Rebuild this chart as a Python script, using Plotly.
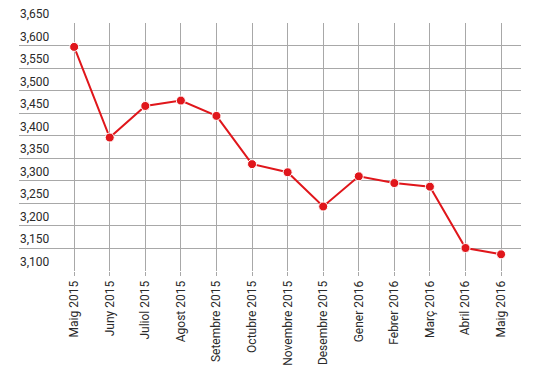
import plotly.graph_objects as go

months = ["Maig 2015", "Juny 2015", "Juliol 2015", "Agost 2015", "Setembre 2015",
          "Octubre 2015", "Novembre 2015", "Desembre 2015", "Gener 2016",
          "Febrer 2016", "Març 2016", "Abril 2016", "Maig 2016"]
values = [3597, 3396, 3466, 3478, 3444, 3337, 3319, 3243, 3310, 3295, 3287, 3151, 3137]
y_ticks = [3100, 3150, 3200, 3250, 3300, 3350, 3400, 3450, 3500, 3550, 3600, 3650]
y_tick_labels = ["3,100", "3,150", "3,200", "3,250", "3,300", "3,350", "3,400",
                 "3,450", "3,500", "3,550", "3,600", "3,650"]

xs = list(range(len(months)))

fig = go.Figure()
fig.add_trace(go.Scatter(
    x=xs, y=values, mode="lines+markers",
    line=dict(color="#e0161b", width=2),
    marker=dict(size=9, color="#e0161b", line=dict(color="white", width=1)),
    hoverinfo="x+y", showlegend=False, cliponaxis=False,
))

for v, t in zip(y_ticks, y_tick_labels):
    fig.add_annotation(
        x=0, xref="paper", y=v, yref="y", text=t, showarrow=False,
        xanchor="left", yanchor="bottom", xshift=-1, yshift=0,
        font=dict(family="Roboto, Arial, sans-serif", size=12, color="#2a2a2a"),
    )

# page body has an 8px default margin, so margins are offset accordingly
fig.update_layout(
    width=546, height=381,
    margin=dict(l=11, r=33, t=15, b=118, autoexpand=False),
    paper_bgcolor="white", plot_bgcolor="white",
    font=dict(family="Roboto, Arial, sans-serif", size=12, color="#2a2a2a"),
    xaxis=dict(
        range=[-1.55, 12.56],
        tickmode="array", tickvals=xs, ticktext=months,
        tickangle=-90, automargin=False,
        showgrid=True, gridcolor="#a8a8a8", gridwidth=1,
        ticks="outside", ticklen=4, tickcolor="#a8a8a8",
        showline=False, zeroline=False,
        tickfont=dict(size=12, color="#2a2a2a"),
    ),
    yaxis=dict(
        range=[3100, 3650], automargin=False,
        tickmode="array", tickvals=y_ticks,
        showticklabels=False,
        showgrid=True, gridcolor="#a8a8a8", gridwidth=1,
        ticks="", showline=False, zeroline=False,
    ),
)

fig.write_html("out.html")
